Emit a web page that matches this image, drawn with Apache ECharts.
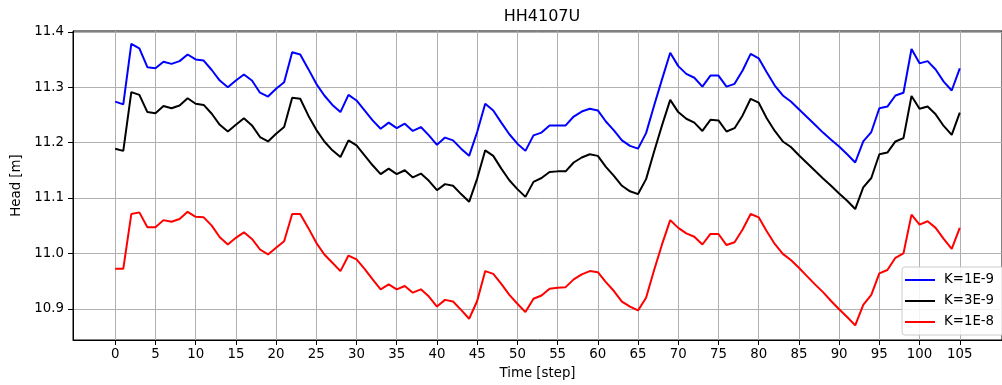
<!DOCTYPE html>
<html>
<head>
<meta charset="utf-8">
<script src="https://cdn.jsdelivr.net/npm/echarts@6/dist/echarts.min.js"></script>
<style>
html,body{margin:0;padding:0;background:#fff;}
#chart{width:1002px;height:385px;}
</style>
</head>
<body>
<div id="chart"></div>
<script>
const title = 'HH4107U';
const xName = 'Time [step]';
const yName = 'Head [m]';
const seriesNames = ['K=1E-9', 'K=3E-9', 'K=1E-8'];
const xTicks = [0,5,10,15,20,25,30,35,40,45,50,55,60,65,70,75,80,85,90,95,100,105];
const yTicks = [10.9,11.0,11.1,11.2,11.3,11.4];

const kBlue = [
11.274,11.269,11.378,11.370,11.336,11.334,11.346,11.342,11.347,11.359,
11.350,11.348,11.331,11.312,11.300,11.312,11.323,11.312,11.290,11.283,
11.297,11.309,11.363,11.359,11.333,11.306,11.285,11.268,11.255,11.286,
11.276,11.258,11.240,11.225,11.236,11.226,11.234,11.221,11.228,11.213,
11.196,11.209,11.204,11.189,11.176,11.219,11.270,11.258,11.236,11.215,
11.198,11.185,11.213,11.218,11.231,11.231,11.231,11.247,11.256,11.261,
11.258,11.238,11.222,11.204,11.194,11.189,11.217,11.267,11.315,11.362,
11.338,11.324,11.317,11.301,11.321,11.321,11.301,11.306,11.330,11.360,
11.352,11.327,11.303,11.285,11.274,11.260,11.246,11.232,11.218,11.205,
11.193,11.179,11.164,11.202,11.219,11.262,11.265,11.285,11.290,11.369,
11.343,11.347,11.332,11.310,11.294,11.334];

const kBlack = [
11.189,11.185,11.291,11.286,11.255,11.253,11.266,11.262,11.267,11.280,
11.270,11.268,11.252,11.232,11.220,11.232,11.244,11.231,11.210,11.202,
11.216,11.228,11.281,11.279,11.249,11.223,11.202,11.186,11.174,11.204,
11.195,11.177,11.159,11.143,11.153,11.143,11.150,11.137,11.144,11.131,
11.114,11.125,11.122,11.107,11.093,11.135,11.186,11.176,11.153,11.132,
11.116,11.102,11.129,11.136,11.147,11.148,11.148,11.164,11.173,11.179,
11.176,11.156,11.140,11.122,11.112,11.107,11.134,11.184,11.232,11.277,
11.255,11.243,11.236,11.221,11.241,11.240,11.220,11.226,11.249,11.279,
11.272,11.244,11.221,11.202,11.192,11.177,11.163,11.149,11.135,11.122,
11.108,11.095,11.080,11.119,11.136,11.179,11.182,11.202,11.208,11.284,
11.261,11.265,11.251,11.230,11.214,11.254];

const kRed = [
10.972,10.972,11.071,11.074,11.047,11.047,11.060,11.057,11.062,11.075,
11.066,11.065,11.050,11.029,11.016,11.028,11.038,11.026,11.007,10.998,
11.010,11.022,11.071,11.071,11.046,11.019,10.998,10.983,10.968,10.996,
10.989,10.972,10.953,10.935,10.944,10.935,10.941,10.929,10.935,10.922,
10.904,10.916,10.913,10.898,10.882,10.914,10.968,10.963,10.945,10.925,
10.909,10.894,10.918,10.924,10.936,10.938,10.939,10.953,10.962,10.968,
10.966,10.948,10.932,10.913,10.904,10.897,10.920,10.970,11.017,11.060,
11.046,11.036,11.030,11.016,11.035,11.035,11.015,11.020,11.043,11.071,
11.065,11.040,11.017,10.999,10.988,10.974,10.959,10.944,10.930,10.914,
10.899,10.885,10.870,10.907,10.925,10.964,10.970,10.992,11.000,11.070,
11.052,11.058,11.046,11.026,11.008,11.046];

const steps = kBlue.map((_, i) => i);
const colors = ['#0000ff', '#000000', '#ff0000'];
const allSeries = [kBlue, kBlack, kRed];

const FONT = 'DejaVu Sans';
const chart = echarts.init(document.getElementById('chart'), null, {renderer: 'canvas'});
chart.setOption({
  animation: false,
  backgroundColor: '#ffffff',
  title: {
    text: title, left: 542, top: 9, textAlign: 'center', padding: 0,
    textStyle: {fontFamily: FONT, fontSize: 16, fontWeight: 'normal', color: '#000'}
  },
  grid: {
    left: 73, top: 31, right: -10, bottom: 44,
    show: true, borderColor: '#000', borderWidth: 1, backgroundColor: 'transparent'
  },
  legend: {
    orient: 'vertical', left: 902, top: 267,
    data: seriesNames,
    icon: 'rect', itemWidth: 30, itemHeight: 2, itemGap: 5,
    padding: [5, 10, 5, 3],
    backgroundColor: 'rgba(255,255,255,0.85)', borderColor: '#cccccc', borderWidth: 1, borderRadius: 3,
    textStyle: {fontFamily: FONT, fontSize: 13.33, color: '#000', lineHeight: 16, padding: [0,0,0,4]}
  },
  xAxis: {
    type: 'value', min: -5.25, max: 110.25,
    name: xName, nameLocation: 'middle', nameGap: 27,
    nameTextStyle: {fontFamily: FONT, fontSize: 13.33, color: '#000'},
    axisLine: {show: true, onZero: false, lineStyle: {color: '#000', width: 1}},
    axisTick: {show: true, length: 5, customValues: xTicks, lineStyle: {color: '#000'}},
    axisLabel: {customValues: xTicks, margin: 8, fontFamily: FONT, fontSize: 13.33, color: '#000',
      formatter: v => String(v)},
    splitLine: {show: true, lineStyle: {color: '#b0b0b0', width: 1}}
  },
  yAxis: {
    type: 'value', min: 10.8436, max: 11.4014,
    name: yName, nameLocation: 'middle', nameGap: 48, nameRotate: 90,
    nameTextStyle: {fontFamily: FONT, fontSize: 13.33, color: '#000'},
    axisLine: {show: true, onZero: false, lineStyle: {color: '#000', width: 1}},
    axisTick: {show: true, length: 5, customValues: yTicks, lineStyle: {color: '#000'}},
    axisLabel: {customValues: yTicks, margin: 9, fontFamily: FONT, fontSize: 13.33, color: '#000',
      formatter: v => v.toFixed(1)},
    splitLine: {show: true, lineStyle: {color: '#b0b0b0', width: 1}}
  },
  series: allSeries.map((vals, k) => ({
    name: seriesNames[k], type: 'line', showSymbol: false, symbol: 'none',
    color: colors[k],
    lineStyle: {color: colors[k], width: 2},
    data: steps.map((s, i) => [s, vals[i]])
  }))
});
</script>
</body>
</html>
